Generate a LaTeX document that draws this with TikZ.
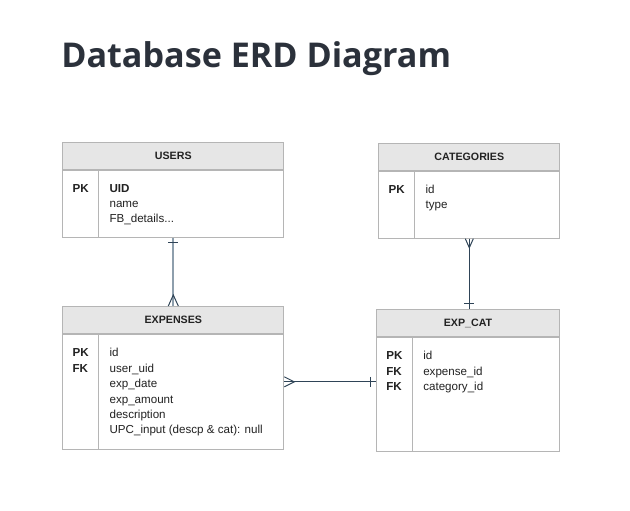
\documentclass[tikz,border=0pt]{standalone}
\usepackage{fontspec}
\setmainfont{Liberation Sans}
\newfontfamily\titlefont{Open Sans}
\usetikzlibrary{positioning,calc}
\definecolor{titleink}{HTML}{2B313B}
\definecolor{textink}{HTML}{222222}
\definecolor{headfill}{HTML}{E6E6E6}
\definecolor{boxline}{HTML}{B5B5B5}
\definecolor{relink}{HTML}{2F4457}
\definecolor{relsoft}{HTML}{8E9FAD}

\begin{document}
\begin{tikzpicture}[
    x=0.75pt, y=-0.75pt,
    % Table parts
    tablehead/.style={rectangle, draw=boxline, fill=headfill, minimum height=20.25pt, inner sep=0pt, anchor=north west, text=textink, font=\fontsize{8}{10}\selectfont\bfseries, line width=0.75pt},
    tablebody/.style={rectangle, draw=boxline, fill=white, inner sep=0pt, anchor=north west, line width=0.75pt},
    divider/.style={draw=boxline, line width=0.75pt},
    keycol/.style={anchor=north west, align=left, inner sep=0pt, text=textink, font=\fontsize{8.7}{11.55}\selectfont\bfseries},
    fieldcol/.style={anchor=north west, align=left, inner sep=0pt, text=textink, font=\fontsize{8.7}{11.55}\selectfont},
    % Relations
    relation/.style={draw=relink, line width=0.75pt},
    softrelation/.style={draw=relsoft, line width=1.5pt}
]

% Canvas
\fill[white] (0,0) rectangle (630,510);
\useasboundingbox (0,0) rectangle (630,510);

% Title
\node[anchor=base west, inner sep=0pt, text=titleink, font=\titlefont\bfseries\fontsize{25.6}{30}\selectfont] (title) at (61,67) {Database ERD Diagram};

% USERS table
\node[tablehead, minimum width=165.75pt] (usershead) at (62.3,141.7) {USERS};
\node[tablebody, minimum width=165.75pt, minimum height=50.25pt] (usersbody) at (usershead.south west) {};
\draw[divider] ([xshift=27pt]usersbody.north west) -- ([xshift=27pt]usersbody.south west);
\node[keycol] (userskeys) at ([xshift=7.5pt, yshift=-8.5pt]usersbody.north west) {\strut PK};
\node[fieldcol] (usersfields) at ([xshift=35.25pt, yshift=-8.5pt]usersbody.north west) {\strut\textbf{UID}\\name\\FB\_details...};

% CATEGORIES table
\node[tablehead, minimum width=135.75pt] (cathead) at (378.3,142.7) {CATEGORIES};
\node[tablebody, minimum width=135.75pt, minimum height=50.25pt] (catbody) at (cathead.south west) {};
\draw[divider] ([xshift=27pt]catbody.north west) -- ([xshift=27pt]catbody.south west);
\node[keycol] (catkeys) at ([xshift=7.5pt, yshift=-8.5pt]catbody.north west) {\strut PK};
\node[fieldcol] (catfields) at ([xshift=35.25pt, yshift=-8.5pt]catbody.north west) {\strut id\\type};

% EXPENSES table
\node[tablehead, minimum width=165.75pt] (exphead) at (62.3,306) {EXPENSES};
\node[tablebody, minimum width=165.75pt, minimum height=86pt] (expbody) at (exphead.south west) {};
\draw[divider] ([xshift=27pt]expbody.north west) -- ([xshift=27pt]expbody.south west);
\node[keycol] (expkeys) at ([xshift=7.5pt, yshift=-8.9pt]expbody.north west) {\strut PK\\FK};
\node[fieldcol] (expfields) at ([xshift=35.25pt, yshift=-8.9pt]expbody.north west) {\strut id\\user\_uid\\exp\_date\\exp\_amount\\description\\UPC\_input (descp \& cat): null};

% EXP_CAT table
\node[tablehead, minimum width=137.25pt] (expcathead) at (376,309.3) {EXP\_CAT};
\node[tablebody, minimum width=137.25pt, minimum height=85.5pt] (expcatbody) at (expcathead.south west) {};
\draw[divider] ([xshift=27pt]expcatbody.north west) -- ([xshift=27pt]expcatbody.south west);
\node[keycol] (expcatkeys) at ([xshift=7.5pt, yshift=-8.5pt]expcatbody.north west) {\strut PK\\FK\\FK};
\node[fieldcol] (expcatfields) at ([xshift=35.25pt, yshift=-8.5pt]expcatbody.north west) {\strut id\\expense\_id\\category\_id};

% USERS one -- many EXPENSES
\draw[softrelation] (usersbody.south) -- (exphead.north);
\draw[relation] ([yshift=-3.6pt]usersbody.south) ++(-5,0) -- ++(10,0);
\draw[relation] (exphead.north) ++(-5,0) -- ++(5,-11) -- ++(5,11);

% CATEGORIES many -- one EXP_CAT
\draw[relation] (catbody.south) -- (catbody.south |- expcathead.north);
\draw[relation] (catbody.south) ++(-4,0) -- ++(4,9) -- ++(4,-9);
\draw[relation] ([yshift=4.5pt]catbody.south |- expcathead.north) ++(-5,0) -- ++(10,0);

% EXPENSES many -- one EXP_CAT
\coordinate (expright) at ([yshift=7.5pt]expbody.east);
\draw[relation] (expright) -- (expright -| expcatbody.west);
\draw[relation] (expright) ++(0,-5) -- ++(10,5) -- ++(-10,5);
\draw[relation] ([xshift=-4pt]expright -| expcatbody.west) ++(0,-5) -- ++(0,10);

\end{tikzpicture}
\end{document}
